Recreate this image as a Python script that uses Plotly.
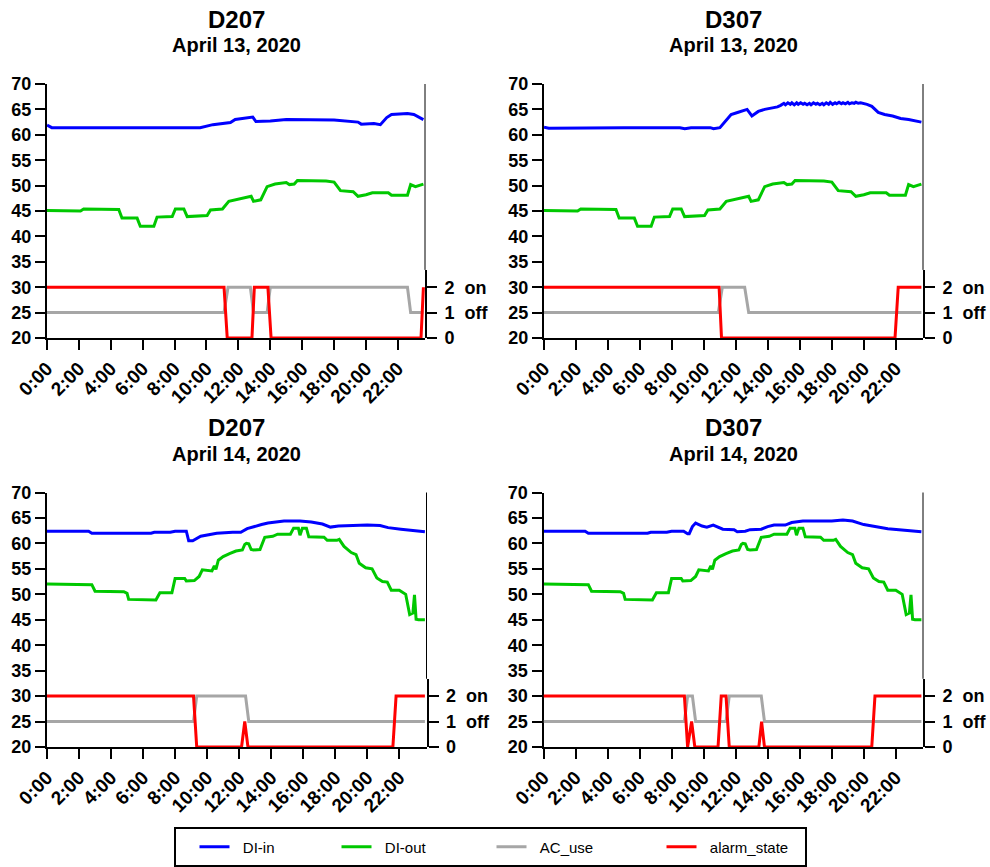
import plotly.graph_objects as go

# ---------------- data (hours since midnight, values) ----------------
hour_ticks = [0, 2, 4, 6, 8, 10, 12, 14, 16, 18, 20, 22]
hour_labels = ["0:00", "2:00", "4:00", "6:00", "8:00", "10:00", "12:00",
               "14:00", "16:00", "18:00", "20:00", "22:00"]
left_ticks = [20, 25, 30, 35, 40, 45, 50, 55, 60, 65, 70]
state_ticks = [0, 1, 2]
state_labels = ["0", "1\u00a0\u00a0off", "2\u00a0\u00a0on"]

series_names = ["DI-in", "DI-out", "AC_use", "alarm_state"]
panel_rooms = ["D207", "D307", "D207", "D307"]
panel_dates = ["April 13, 2020", "April 13, 2020", "April 14, 2020", "April 14, 2020"]

# DI-out (outdoor) per day
t_out_0413 = [0.0, 2.1, 2.3, 4.5, 4.7, 5.65, 5.85, 6.7, 6.9, 7.85, 8.05, 8.58, 8.79,
              10.04, 10.25, 11.0, 11.4, 12.0, 12.5, 12.8, 12.95, 13.4, 13.8, 14.3,
              15.0, 15.2, 15.5, 15.7, 17.5, 18.0, 18.4, 19.2, 19.5, 20.0, 20.4,
              21.4, 21.6, 22.6, 22.8, 23.1, 23.6]
v_out_0413 = [45.1, 45.0, 45.4, 45.3, 43.6, 43.6, 42.0, 42.0, 43.8, 43.9, 45.4, 45.4, 43.9,
              44.1, 45.2, 45.4, 46.9, 47.3, 47.6, 47.9, 46.9, 47.2, 49.8, 50.3,
              50.6, 50.2, 50.3, 51.0, 50.9, 50.7, 49.0, 48.8, 47.9, 48.2, 48.6,
              48.6, 48.1, 48.1, 50.2, 49.8, 50.3]

t_out_0414 = [0.0, 2.6, 2.8, 3.0, 4.8, 5.0, 5.1, 6.8, 7.05, 7.8, 8.0, 8.6, 8.7, 9.2,
              9.5, 9.7, 10.3, 10.45, 10.55, 10.7, 11.0, 11.4, 11.8, 12.2, 12.35, 12.45,
              12.6, 12.75, 12.9, 13.3, 13.6, 14.1, 14.4, 15.2, 15.4, 15.7, 15.8, 15.95,
              16.2, 16.35, 17.3, 17.5, 18.1, 18.25, 18.55, 19.0, 19.3, 19.5, 19.9, 20.3,
              20.6, 20.95, 21.25, 21.5, 22.0, 22.4, 22.65, 22.85, 22.95, 23.05, 23.2, 23.6]
v_out_0414 = [52.0, 52.0, 51.9, 50.6, 50.5, 50.2, 49.0, 48.9, 50.3, 50.3, 53.1, 53.1, 52.6, 52.7,
              53.5, 54.8, 54.6, 55.6, 54.9, 56.7, 57.4, 58.0, 58.5, 58.7, 59.8, 60.0,
              59.9, 58.8, 58.7, 58.8, 61.2, 61.4, 61.8, 61.8, 63.0, 63.0, 61.6, 63.0,
              63.0, 61.3, 61.2, 60.6, 60.6, 60.8, 59.4, 58.2, 57.8, 56.1, 55.2, 55.0,
              53.2, 52.5, 52.4, 50.8, 50.8, 50.0, 46.0, 46.3, 49.9, 45.1, 45.0, 45.0]

# DI-in per room/day
t_in_d207_0413 = [0.0, 0.3, 5.0, 8.5, 9.0, 9.6, 10.4, 11.0, 11.5, 11.8, 12.5, 12.9, 13.1,
                  14.0, 15.0, 16.0, 18.0, 19.5, 19.7, 20.5, 20.9, 21.3, 21.6, 22.6, 23.0, 23.6]
v_in_d207_0413 = [61.9, 61.4, 61.4, 61.4, 61.3, 61.4, 62.0, 62.3, 62.4, 63.0, 63.4, 63.5, 62.6,
                  62.7, 63.0, 63.0, 62.9, 62.5, 62.1, 62.2, 62.0, 63.4, 64.0, 64.2, 64.0, 63.0]

t_in_d307_0413 = [0.0, 0.3, 5.0, 8.5, 8.8, 9.2, 10.4, 10.6, 11.0, 11.3, 11.7, 12.1, 12.5,
                  12.7, 13.0, 13.4, 13.8, 14.2, 14.6, 14.8,
                  15.0, 15.1, 15.25, 15.4, 15.5, 15.65, 15.8, 15.9, 16.05, 16.2, 16.3, 16.45,
                  16.6, 16.7, 16.85, 17.0, 17.1, 17.25, 17.4, 17.5, 17.65, 17.8, 17.9, 18.05,
                  18.2, 18.3, 18.45, 18.6, 18.7, 18.85, 19.0, 19.1, 19.25, 19.4, 19.5, 19.65,
                  19.8, 20.2, 20.5, 20.9, 21.3, 21.8, 22.3, 22.8, 23.2, 23.6]
v_in_d307_0413 = [61.5, 61.3, 61.4, 61.4, 61.2, 61.4, 61.4, 61.2, 61.4, 62.6, 64.0, 64.4, 64.8,
                  65.0, 63.7, 64.6, 65.0, 65.2, 65.5, 65.8,
                  66.2, 65.9, 66.3, 66.0, 66.3, 65.9, 66.3, 66.0, 66.3, 66.0, 66.2, 65.9,
                  66.2, 65.9, 66.3, 66.0, 66.2, 65.9, 66.2, 65.9, 66.3, 66.0, 66.4, 66.0,
                  66.3, 66.1, 66.4, 66.1, 66.3, 66.1, 66.4, 66.1, 66.3, 66.2, 66.4, 66.2,
                  66.3, 66.0, 65.6, 64.4, 64.0, 63.7, 63.2, 63.0, 62.8, 62.5]

t_in_d207_0414 = [0.0, 2.6, 2.8, 6.5, 6.7, 7.7, 8.0, 8.7, 8.85, 9.1, 9.6, 10.6, 11.6, 12.1,
                  12.5, 12.9, 13.4, 13.8, 14.8, 15.8, 16.5, 17.2, 17.7, 18.2, 19.0, 20.0,
                  20.8, 21.3, 22.1, 23.6]
v_in_d207_0414 = [62.4, 62.4, 62.0, 62.0, 62.2, 62.2, 62.4, 62.4, 60.5, 60.5, 61.4, 62.0, 62.2, 62.2,
                  62.9, 63.3, 63.7, 64.0, 64.4, 64.4, 64.2, 63.8, 63.2, 63.4, 63.5, 63.6,
                  63.5, 63.1, 62.8, 62.3]

t_in_d307_0414 = [0.0, 2.6, 2.8, 6.5, 6.7, 7.7, 8.0, 8.75, 9.0, 9.1, 9.3, 9.5, 9.9, 10.2,
                  10.6, 11.0, 11.2, 11.9, 12.1, 12.6, 12.9, 13.6, 14.0, 14.4, 15.1, 15.5,
                  16.2, 17.0, 18.0, 18.7, 19.3, 20.0, 20.8, 21.5, 22.2, 23.0, 23.6]
v_in_d307_0414 = [62.4, 62.4, 62.0, 62.0, 62.2, 62.2, 62.4, 62.4, 61.9, 61.9, 63.3, 64.0, 63.4, 63.2,
                  63.6, 63.0, 62.8, 62.7, 62.3, 62.4, 62.7, 62.8, 63.3, 63.6, 63.6, 64.1,
                  64.4, 64.4, 64.4, 64.6, 64.4, 63.7, 63.2, 62.9, 62.7, 62.5, 62.3]

# AC_use (1 = off, 2 = on)
t_ac_d207_0413 = [0.0, 11.1, 11.35, 12.75, 12.95, 13.8, 14.0, 22.6, 22.8, 23.6]
v_ac_d207_0413 = [1, 1, 2, 2, 1, 1, 2, 2, 1, 1]
t_ac_d307_0413 = [0.0, 10.9, 11.15, 12.55, 12.8, 23.6]
v_ac_d307_0413 = [1, 1, 2, 2, 1, 1]
t_ac_d207_0414 = [0.0, 9.15, 9.35, 12.4, 12.6, 23.6]
v_ac_d207_0414 = [1, 1, 2, 2, 1, 1]
t_ac_d307_0414 = [0.0, 8.8, 9.0, 9.3, 9.5, 11.4, 11.6, 13.6, 13.8, 23.6]
v_ac_d307_0414 = [1, 1, 2, 2, 1, 1, 2, 2, 1, 1]

# alarm_state
t_al_d207_0413 = [0.0, 11.1, 11.3, 12.85, 13.0, 13.85, 14.05, 23.45, 23.6]
v_al_d207_0413 = [2, 2, 0, 0, 2, 2, 0, 0, 2]
t_al_d307_0413 = [0.0, 10.95, 11.1, 21.95, 22.15, 23.6]
v_al_d307_0413 = [2, 2, 0, 0, 2, 2]
t_al_d207_0414 = [0.0, 9.15, 9.35, 12.15, 12.35, 12.55, 21.6, 21.8, 23.6]
v_al_d207_0414 = [2, 2, 0, 0, 1, 0, 0, 2, 2]
t_al_d307_0414 = [0.0, 8.8, 9.0, 9.25, 9.45, 10.9, 11.1, 11.4, 11.6, 13.45, 13.62, 13.8,
                  20.5, 20.7, 23.6]
v_al_d307_0414 = [2, 2, 0, 1, 0, 0, 2, 2, 0, 0, 1, 0, 0, 2, 2]

panels = [
    [(t_in_d207_0413, v_in_d207_0413), (t_out_0413, v_out_0413),
     (t_ac_d207_0413, v_ac_d207_0413), (t_al_d207_0413, v_al_d207_0413)],
    [(t_in_d307_0413, v_in_d307_0413), (t_out_0413, v_out_0413),
     (t_ac_d307_0413, v_ac_d307_0413), (t_al_d307_0413, v_al_d307_0413)],
    [(t_in_d207_0414, v_in_d207_0414), (t_out_0414, v_out_0414),
     (t_ac_d207_0414, v_ac_d207_0414), (t_al_d207_0414, v_al_d207_0414)],
    [(t_in_d307_0414, v_in_d307_0414), (t_out_0414, v_out_0414),
     (t_ac_d307_0414, v_ac_d307_0414), (t_al_d307_0414, v_al_d307_0414)],
]
for p in panels:
    for t, v in p:
        assert len(t) == len(v), (len(t), len(v))

# ---------------- styling / layout ----------------
W, H = 990, 867
colors = ["#0000FF", "#00C800", "#A6A6A6", "#FF0000"]
legend_widths = [97, 110, 125, 100]
FONT = "Liberation Sans, Arial, Helvetica, sans-serif"


def bold(s):
    return f"<b>{s}</b>"


# plot-area boxes in pixels: (left, right, top, bottom)
boxes = [(47, 425, 84, 338), (544, 923, 84, 338),
         (47, 426.5, 492.5, 747), (543.5, 923, 492.5, 747)]
X_RANGE = [0, 23.7]
STATE_TOP = 2.68           # top of the right-hand state axis
STATE_FRAC = STATE_TOP / 10.0  # same scale as 20..70 (5 units per state)

fig = go.Figure()
layout = dict(
    width=W, height=H, margin=dict(l=0, r=0, t=0, b=0, autoexpand=False),
    paper_bgcolor="white", plot_bgcolor="rgba(0,0,0,0)",
    font=dict(family=FONT, color="black"),
    showlegend=True,
    legend=dict(orientation="h", x=194.5 / W, xanchor="left", y=1 - 847 / H, yanchor="middle",
                font=dict(family=FONT, size=15, color="black"), bgcolor="rgba(0,0,0,0)",
                borderwidth=0, itemwidth=30),
    shapes=[], annotations=[],
)

ytick_font = dict(family=FONT, size=18, color="black", weight="bold")
xtick_font = dict(family=FONT, size=19, color="black", weight="bold")

for i, (box, series) in enumerate(zip(boxes, panels)):
    l, r, t, b = box
    xd = [l / W, r / W]
    yd = [1 - b / H, 1 - t / H]
    xn = i + 1
    yp = 2 * i + 1
    ys = 2 * i + 2
    xname = "xaxis" if xn == 1 else f"xaxis{xn}"
    ypname = "yaxis" if yp == 1 else f"yaxis{yp}"
    ysname = f"yaxis{ys}"
    xref = "x" if xn == 1 else f"x{xn}"
    ypref = "y" if yp == 1 else f"y{yp}"
    ysref = f"y{ys}"

    common = dict(ticks="outside", ticklen=10, tickwidth=2, tickcolor="black",
                  showline=True, linewidth=2, linecolor="black",
                  showgrid=False, zeroline=False,
                  automargin=False, tickmode="array")
    layout[xname] = dict(domain=xd, anchor=ypref, range=X_RANGE,
                         tickvals=hour_ticks, ticktext=[bold(s) for s in hour_labels],
                         tickangle=-45, tickfont=xtick_font, **common)
    layout[ypname] = dict(domain=yd, anchor=xref, range=[20, 70],
                          tickvals=left_ticks, ticktext=[bold(v) for v in left_ticks],
                          tickfont=ytick_font, **common)
    layout[ysname] = dict(domain=[yd[0], yd[0] + STATE_FRAC * (yd[1] - yd[0])],
                          anchor=xref, side="right", range=[0, STATE_TOP],
                          tickvals=state_ticks, ticktext=[bold(s) for s in state_labels],
                          ticklabelstandoff=4, tickfont=ytick_font, **common)

    # thin right frame above the state axis
    layout["shapes"].append(dict(type="line", xref=f"{xref} domain", yref=f"{ypref} domain",
                                 x0=1, x1=1, y0=STATE_FRAC, y1=1,
                                 line=dict(color="black", width=1)))

    for k, ((tx, vy), name, col) in enumerate(zip(series, series_names, colors)):
        fig.add_trace(go.Scatter(
            x=tx, y=vy, mode="lines", name="\u00a0\u00a0" + name,
            line=dict(color=col, width=3),
            xaxis=xref, yaxis=(ypref if k < 2 else ysref),
            legendgroup=name, showlegend=(i == 0),
            legendwidth=legend_widths[k], hoverinfo="skip"))

    cx = (l + r) / 2 / W
    layout["annotations"].append(dict(
        text=bold(panel_rooms[i]), x=cx, y=1 - (t - 65) / H, xref="paper", yref="paper",
        xanchor="center", yanchor="middle", showarrow=False,
        font=dict(family=FONT, size=24, color="black", weight="bold")))
    layout["annotations"].append(dict(
        text=bold(panel_dates[i]), x=cx, y=1 - (t - 39) / H, xref="paper", yref="paper",
        xanchor="center", yanchor="middle", showarrow=False,
        font=dict(family=FONT, size=20, color="black", weight="bold")))

# legend frame
layout["shapes"].append(dict(type="rect", xref="paper", yref="paper",
                             x0=175 / W, x1=806 / W, y0=1 - 866 / H, y1=1 - 828 / H,
                             line=dict(color="black", width=2), fillcolor="rgba(0,0,0,0)"))

fig.update_layout(**layout)
fig.write_html("out.html")
